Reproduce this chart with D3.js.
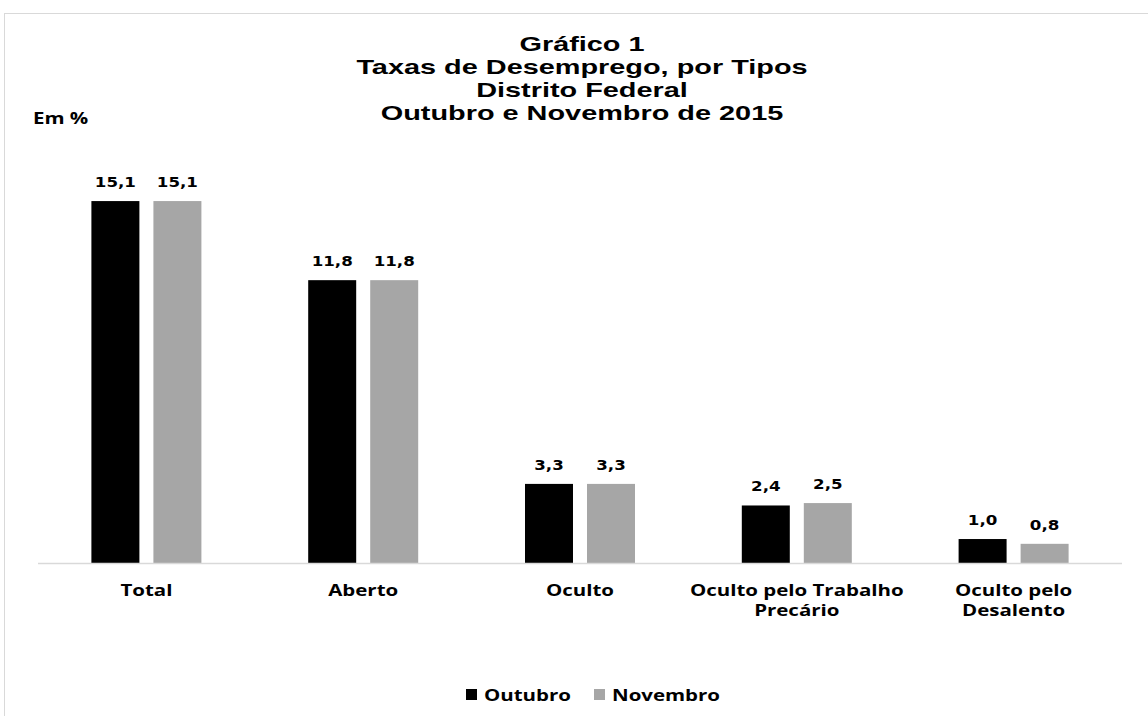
<!DOCTYPE html>
<html><head><meta charset="utf-8">
<script src="https://cdn.jsdelivr.net/npm/d3@7"></script>
<style>
html,body{margin:0;padding:0;background:#fff;}
svg{display:block;}
</style></head>
<body>
<svg id="chart" width="1148" height="716"></svg>
<script>
const categories = [["Total"], ["Aberto"], ["Oculto"], ["Oculto pelo Trabalho", "Precário"], ["Oculto pelo", "Desalento"]];
const seriesNames = ["Outubro", "Novembro"];
const outubro = [15.1, 11.8, 3.3, 2.4, 1.0];
const novembro = [15.1, 11.8, 3.3, 2.5, 0.8];
const titleLines = ["Gráfico 1", "Taxas de Desemprego, por Tipos", "Distrito Federal", "Outubro e Novembro de 2015"];
const unitLabel = "Em %";

const colors = {Outubro: "#000000", Novembro: "#a6a6a6"};
const fmt = v => d3.format(".1f")(v).replace(".", ",");

const svg = d3.select("#chart");
const W = 1148, H = 716;

svg.append("rect").attr("x", 4.5).attr("y", 13.5).attr("width", W).attr("height", H)
  .attr("fill", "#fff").attr("stroke", "#d9d9d9").attr("stroke-width", 1);

const catKeys = categories.map(c => c.join(" "));
const x0 = d3.scaleBand().domain(catKeys).range([38, 1122]);
const x1 = d3.scaleBand().domain(seriesNames).range([0, 110]).paddingInner(0.226);
const y = d3.scaleLinear().domain([0, 16]).range([563, 179.5]);

function sText(parent, x, yy, str, opts) {
  const g = parent.append("g").attr("transform", `translate(${x},${yy}) scale(${opts.k},1)`);
  g.append("text").attr("text-anchor", opts.anchor || "middle")
    .attr("font-family", opts.family).attr("font-weight", "bold")
    .attr("font-size", opts.size).attr("fill", "#000").text(str);
  return g;
}

// title
const titleFont = {family: "'Liberation Sans', Arial, sans-serif", size: 21, k: 1.375};
titleLines.forEach((t, i) => sText(svg, 582, 51 + i * 23, t, titleFont));

const labFont = {family: "'Open Sans', sans-serif", size: 16, k: 1.28};
sText(svg, 33, 124, unitLabel, Object.assign({}, labFont, {anchor: "start"}));

const data = catKeys.map((k, i) => ({key: k, lines: categories[i], vals: [
  {s: "Outubro", v: outubro[i]}, {s: "Novembro", v: novembro[i]}]}));

const groups = svg.append("g").selectAll("g").data(data).join("g")
  .attr("transform", d => `translate(${x0(d.key) + x0.bandwidth() / 2 - 55},0)`);

groups.selectAll("rect").data(d => d.vals).join("rect")
  .attr("x", d => x1(d.s)).attr("width", x1.bandwidth())
  .attr("y", d => y(d.v)).attr("height", d => y(0) - y(d.v))
  .attr("fill", d => colors[d.s]);

const valFont = {family: "'DejaVu Sans', sans-serif", size: 14, k: 1.19};
groups.each(function(d) {
  const g = d3.select(this);
  d.vals.forEach(v => sText(g, x1(v.s) + x1.bandwidth() / 2, y(v.v) - 14, fmt(v.v), valFont));
});

// baseline
svg.append("line").attr("x1", 38).attr("x2", 1122).attr("y1", y(0) + 0.5).attr("y2", y(0) + 0.5)
  .attr("stroke", "#d9d9d9").attr("stroke-width", 1.5);

// category labels
data.forEach(d => {
  d.lines.forEach((ln, j) => sText(svg, x0(d.key) + x0.bandwidth() / 2, 596 + j * 20, ln, labFont));
});

// legend
const legend = [{s: "Outubro", sq: 466, tx: 484}, {s: "Novembro", sq: 594, tx: 612}];
legend.forEach(l => {
  svg.append("rect").attr("x", l.sq).attr("y", 689).attr("width", 11).attr("height", 11).attr("fill", colors[l.s]);
  sText(svg, l.tx, 701, l.s, Object.assign({}, labFont, {anchor: "start"}));
});
</script>
</body></html>
